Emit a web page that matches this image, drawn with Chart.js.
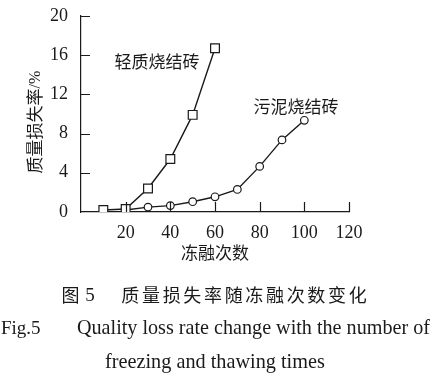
<!DOCTYPE html>
<html>
<head>
<meta charset="utf-8">
<script src="https://cdn.jsdelivr.net/npm/chart.js@4/dist/chart.umd.min.js"></script>
<style>
html,body{margin:0;padding:0;background:#fff;}
#wrap{width:435px;height:381px;position:relative;}
</style>
</head>
<body>
<div id="wrap"><canvas id="c" width="435" height="381"></canvas></div>
<script>
// ---- data ----
const lightCycles = [10, 20, 30, 40, 50, 60];
const lightLoss = [0.2, 0.3, 2.4, 5.4, 9.9, 16.7];
const sludgeCycles = [20, 30, 40, 50, 60, 70, 80, 90, 100];
const sludgeLoss = [0.2, 0.5, 0.65, 1.05, 1.55, 2.3, 4.65, 7.35, 9.35];
const xTicks = [20, 40, 60, 80, 100, 120];
const yTicks = [0, 4, 8, 12, 16, 20];
const lightName = '轻质烧结砖';
const sludgeName = '污泥烧结砖';
const xTitle = '冻融次数';
const yTitle = '质量损失率/%';
const captionCnNum = '图 5';
const captionCn = '质量损失率随冻融次数变化';
const captionEnNum = 'Fig.5';
const captionEn1 = 'Quality loss rate change with the number of';
const captionEn2 = 'freezing and thawing times';

const INK = '#1a1a1a';
const SERIF = '"Liberation Serif", "DejaVu Serif", serif';
const CJK = '"Noto Sans CJK SC", "Noto Sans", sans-serif';

const toPts = (xs, ys) => xs.map((x, i) => ({x, y: ys[i]}));

const textPlugin = {
  id: 'texts',
  afterDraw(chart) {
    const ctx = chart.ctx;
    const xs = chart.scales.x, ys = chart.scales.y;
    const ca = chart.chartArea;
    ctx.save();
    // inner ticks
    ctx.strokeStyle = INK;
    ctx.lineWidth = 1.2;
    ctx.beginPath();
    yTicks.forEach(v => {
      if (v === 0) return;
      const py = Math.round(ys.getPixelForValue(v)) + 0.5;
      ctx.moveTo(ca.left, py); ctx.lineTo(ca.left + 9, py);
    });
    xTicks.forEach(v => {
      const px = Math.round(xs.getPixelForValue(v)) + 0.5;
      ctx.moveTo(px, ca.bottom); ctx.lineTo(px, ca.bottom - 10);
    });
    ctx.stroke();

    ctx.fillStyle = INK;
    ctx.textAlign = 'center';
    ctx.textBaseline = 'middle';
    // series labels
    ctx.font = '17px ' + CJK;
    ctx.fillText(lightName, 157, 62);
    ctx.fillText(sludgeName, 296, 107);
    // x title
    ctx.fillText(xTitle, 215, 253);
    // y title
    ctx.save();
    ctx.translate(35, 122);
    ctx.rotate(-Math.PI / 2);
    ctx.font = '17px ' + CJK;
    const cnPart = '质量损失率';
    ctx.textAlign = 'left';
    const w1 = ctx.measureText(cnPart).width;
    ctx.font = '16px ' + SERIF;
    const w2 = ctx.measureText('/%').width;
    const start = -(w1 + w2) / 2;
    ctx.font = '17px ' + CJK;
    ctx.fillText(cnPart, start, 0);
    ctx.font = '16px ' + SERIF;
    ctx.fillText('/%', start + w1, 1);
    ctx.restore();

    // caption line 1
    ctx.font = '18px ' + CJK;
    ctx.textAlign = 'center';
    ctx.fillText('图', 70.5, 295);
    ctx.font = '19px ' + SERIF;
    ctx.fillText('5', 90, 296);
    ctx.font = '18px ' + CJK;
    const chars = Array.from(captionCn);
    const x0 = 120, x1 = 368, pitch = (x1 - x0) / chars.length;
    chars.forEach((ch, i) => ctx.fillText(ch, x0 + pitch * (i + 0.5), 295));

    // caption lines 2 and 3
    ctx.textAlign = 'left';
    ctx.font = '19px ' + SERIF;
    ctx.fillText(captionEnNum, 1, 329);
    const fitText = (t, left, right, y) => {
      ctx.font = '19px ' + SERIF;
      const w = ctx.measureText(t).width;
      const size = 19 * (right - left) / w;
      ctx.font = size.toFixed(2) + 'px ' + SERIF;
      ctx.fillText(t, left, y);
    };
    fitText(captionEn1, 77, 430, 329);
    fitText(captionEn2, 105, 325, 363);
    ctx.restore();
  }
};

new Chart(document.getElementById('c'), {
  type: 'line',
  data: {
    datasets: [
      {
        label: lightName,
        data: toPts(lightCycles, lightLoss),
        borderColor: INK, borderWidth: 1.4,
        pointStyle: 'rect', pointRadius: 6.2, pointBorderWidth: 1.2,
        pointBackgroundColor: '#fff', pointBorderColor: INK,
        tension: 0, fill: false
      },
      {
        label: sludgeName,
        data: toPts(sludgeCycles, sludgeLoss),
        borderColor: INK, borderWidth: 1.4,
        pointStyle: 'circle', pointRadius: 3.8, pointBorderWidth: 1.2,
        pointBackgroundColor: '#fff', pointBorderColor: INK,
        tension: 0, fill: false
      }
    ]
  },
  options: {
    responsive: false,
    animation: false,
    devicePixelRatio: 1,
    layout: { padding: { top: 14, right: 86, bottom: 111, left: 0 } },
    plugins: { legend: { display: false }, tooltip: { enabled: false } },
    scales: {
      x: {
        type: 'linear', min: 0, max: 120,
        afterFit(s) { s.height = 58; },
        afterBuildTicks(s) { s.ticks = [0].concat(xTicks).map(v => ({value: v})); },
        grid: { display: false },
        border: { display: true, color: INK, width: 1.2 },
        ticks: {
          padding: 2, color: INK,
          font: { family: SERIF, size: 18 },
          callback: v => (v === 0 ? '' : String(v))
        }
      },
      y: {
        type: 'linear', min: 0, max: 20,
        afterFit(s) { s.width = 81; },
        afterBuildTicks(s) { s.ticks = yTicks.map(v => ({value: v})); },
        grid: { display: false },
        border: { display: true, color: INK, width: 1.2 },
        ticks: {
          padding: 5, color: INK,
          font: { family: SERIF, size: 18 }
        }
      }
    }
  },
  plugins: [textPlugin]
});
</script>
</body>
</html>
